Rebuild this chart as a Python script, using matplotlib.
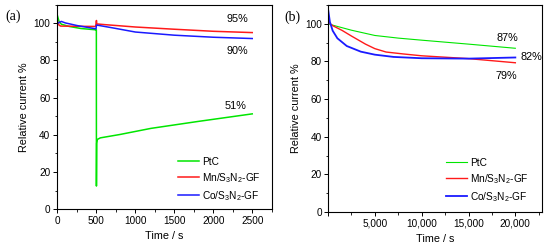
import matplotlib
matplotlib.use("Agg")
import matplotlib.pyplot as plt
from matplotlib.ticker import MultipleLocator, FuncFormatter

plt.rcParams['font.family'] = ['Liberation Sans', 'DejaVu Sans']
plt.rcParams['mathtext.fontset'] = 'custom'
plt.rcParams['mathtext.rm'] = 'Liberation Sans'

# panel (a) data
t_a_pt = [0, 20, 50, 150, 300, 490, 499, 500, 503, 510, 550, 800, 1200, 1800, 2500]
pt_a = [104, 101, 99.5, 98.3, 97.2, 96.5, 96.5, 12.5, 35.5, 37.5, 38.4, 40.2, 43.5, 47.2, 51.3]
t_a_mn = [0, 20, 40, 200, 490, 500, 505, 520, 600, 1000, 1500, 2000, 2500]
mn_a = [101, 99, 98.5, 98.4, 98.3, 101.5, 99.5, 99.6, 99.3, 98.0, 96.8, 95.7, 95.0]
t_a_co = [0, 50, 100, 250, 495, 500, 510, 700, 1000, 1500, 2000, 2500]
co_a = [100, 101, 100.2, 98.8, 97.0, 99.0, 99.0, 97.6, 95.3, 93.6, 92.5, 91.8]

# panel (b) data
t_b_pt = [0, 1000, 2500, 5000, 7500, 10000, 15000, 20000]
pt_b = [100, 98.6, 96.6, 93.8, 92.4, 91.3, 89.2, 87.0]
t_b_mn = [0, 500, 1500, 2500, 4000, 5000, 6200, 8000, 10000, 15000, 20000]
mn_b = [101, 99, 96.5, 93.5, 89.2, 86.8, 85.0, 84.0, 83.0, 81.5, 79.3]
t_b_co = [0, 200, 500, 1000, 2000, 3500, 5000, 7000, 10000, 15000, 20000]
co_b = [108, 101, 96.3, 92.3, 88.2, 85.2, 83.6, 82.4, 81.7, 81.5, 82.1]

labels = ['PtC', r'Mn/S$_3$N$_2$-GF', r'Co/S$_3$N$_2$-GF']
green, red, blue = '#00e600', '#ff1a1a', '#1a1aff'

fig = plt.figure(figsize=(5.5, 2.48), dpi=100)
ax1 = fig.add_axes([0.1031, 0.1561, 0.3909, 0.825])
ax2 = fig.add_axes([0.5964, 0.1452, 0.3891, 0.8347])

ax1.plot(t_a_pt, pt_a, color=green, lw=1.1, label=labels[0])
ax1.plot(t_a_mn, mn_a, color=red, lw=1.1, label=labels[1])
ax1.plot(t_a_co, co_a, color=blue, lw=1.1, label=labels[2])
ax1.set_xlim(-10, 2750)
ax1.xaxis.set_major_locator(MultipleLocator(500))
ax1.xaxis.set_minor_locator(MultipleLocator(250))

ax2.plot(t_b_pt, pt_b, color=green, lw=0.8, label=labels[0])
ax2.plot(t_b_mn, mn_b, color=red, lw=1.0, label=labels[1])
ax2.plot(t_b_co, co_b, color=blue, lw=1.3, label=labels[2])
ax2.set_xlim(0, 22850)
ax2.xaxis.set_major_locator(MultipleLocator(5000))
ax2.xaxis.set_minor_locator(MultipleLocator(2500))
ax2.xaxis.set_major_formatter(FuncFormatter(lambda v, p: f'{int(v):,}' if v > 0 else ''))

legend_pos = {ax1: (0.564, 0.256), ax2: (0.551, 0.261)}
for ax in (ax1, ax2):
    ax.set_ylim(0, 110)
    ax.yaxis.set_major_locator(MultipleLocator(20))
    ax.yaxis.set_minor_locator(MultipleLocator(10))
    ax.tick_params(which='major', direction='out', length=3, width=0.7, labelsize=7.2, pad=1.5)
    ax.tick_params(which='minor', direction='out', length=1.8, width=0.6)
    for s in ax.spines.values():
        s.set_linewidth(0.8)
    ax.set_xlabel('Time / s', fontsize=7.8, labelpad=4)
    ax.set_ylabel('Relative current %', fontsize=7.8, labelpad=3)
    ax.legend(loc='upper left', bbox_to_anchor=legend_pos[ax], fontsize=7.3, frameon=False,
              handlelength=2.1, handletextpad=0.3, labelspacing=0.4,
              borderpad=0, borderaxespad=0)

ax1.text(0.84, 0.93, '95%', transform=ax1.transAxes, fontsize=7.8, ha='center', va='center')
ax1.text(0.84, 0.775, '90%', transform=ax1.transAxes, fontsize=7.8, ha='center', va='center')
ax1.text(0.83, 0.505, '51%', transform=ax1.transAxes, fontsize=7.8, ha='center', va='center')
fig.text(13 / 550, 1 - 16 / 248, '(a)', fontsize=10, family='Liberation Serif', ha='center', va='center')

ax2.text(0.836, 0.84, '87%', transform=ax2.transAxes, fontsize=7.8, ha='center', va='center')
ax2.text(0.948, 0.75, '82%', transform=ax2.transAxes, fontsize=7.8, ha='center', va='center')
ax2.text(0.835, 0.657, '79%', transform=ax2.transAxes, fontsize=7.8, ha='center', va='center')
fig.text(292 / 550, 1 - 17 / 248, '(b)', fontsize=10, family='Liberation Serif', ha='center', va='center')

fig.savefig('out.png', dpi=100)
